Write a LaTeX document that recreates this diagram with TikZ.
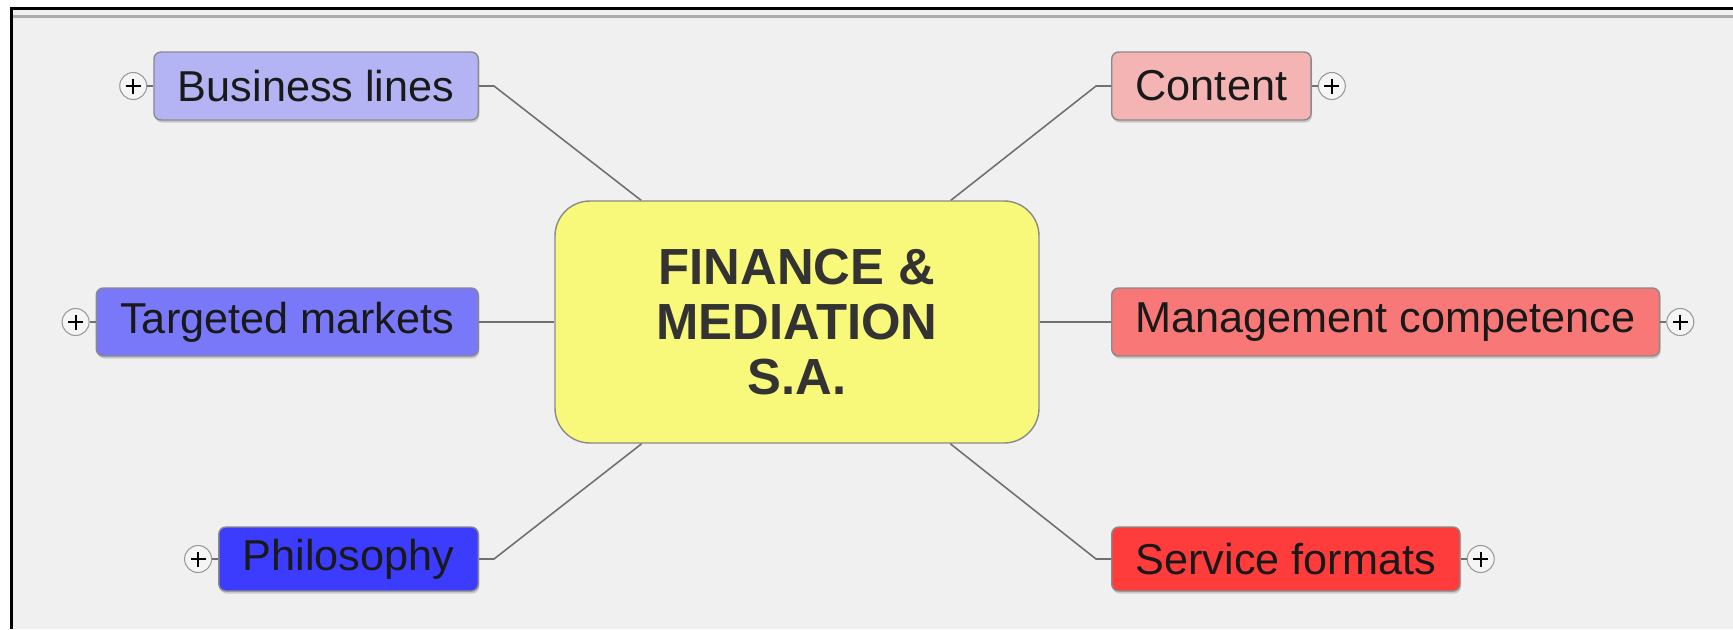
\documentclass[tikz,border=0pt]{standalone}
\usepackage{fontspec}
\setmainfont{Liberation Sans}
\usetikzlibrary{positioning,shadows}
% Farben
\definecolor{hintergrund}{HTML}{F0F0F0}
\definecolor{rahmen}{HTML}{8A8A8A}
\definecolor{linie}{HTML}{707070}
\definecolor{mitte}{HTML}{F8F87A}
\definecolor{blau_hell}{HTML}{B4B4F4}
\definecolor{blau_mittel}{HTML}{7878F8}
\definecolor{blau_dunkel}{HTML}{3C3CFF}
\definecolor{rot_hell}{HTML}{F4B4B4}
\definecolor{rot_mittel}{HTML}{F87878}
\definecolor{rot_dunkel}{HTML}{FF3C3C}
\tikzset{
  zweig/.style={draw=rahmen, line width=0.8pt, rounded corners=0.14cm,
    minimum height=1.36cm, inner xsep=0.48cm, text=black!90,
    font=\fontsize{24.6}{28}\selectfont,
    drop shadow={shadow xshift=0.02cm, shadow yshift=-0.05cm, fill=black!25, opacity=0.8}},
  zentrum/.style={draw=rahmen, line width=0.8pt, rounded corners=0.7cm, fill=mitte,
    minimum width=9.68cm, minimum height=4.84cm, align=center, text=black!80,
    font=\bfseries\fontsize{28.9}{31.4}\selectfont},
  plus/.style={circle, draw=gray!80, fill=white!92!gray, line width=0.6pt,
    minimum size=0.54cm, inner sep=0pt,
    path picture={
      \draw[black, line width=1.1pt]([xshift=-0.15cm]path picture bounding box.center)--([xshift=0.15cm]path picture bounding box.center);
      \draw[black, line width=1.1pt]([yshift=-0.15cm]path picture bounding box.center)--([yshift=0.15cm]path picture bounding box.center);}},
  ast/.style={draw=linie, line width=0.9pt}
}
\begin{document}
\begin{tikzpicture}
% Rahmen und Hintergrund
\useasboundingbox (0,0) rectangle (34.66,-12.58);
\fill[white] (0,0) rectangle (34.66,-12.58);
\fill[hintergrund] (0.22,-0.16) rectangle (34.66,-12.58);
\draw[gray!65, line width=0.06cm] (0.25,-0.32) -- (34.66,-0.32);
\draw[black, line width=0.06cm] (34.66,-0.16) -- (0.22,-0.16) -- (0.22,-12.58);

% Mitte
\node[zentrum]at(15.94,-6.44)(center){FINANCE \&\\MEDIATION\\S.A.};

% Zweige links
\node[zweig,fill=blau_hell,anchor=east]at(9.58,-1.72)(business){Business lines};
\node[zweig,fill=blau_mittel,anchor=east]at(9.58,-6.44)(targeted){Targeted markets};
\node[zweig,fill=blau_dunkel,anchor=east,minimum height=1.28cm]at(9.58,-11.18)(philosophy){Philosophy};
% Zweige rechts
\node[zweig,fill=rot_hell,anchor=west]at(22.22,-1.72)(content){Content};
\node[zweig,fill=rot_mittel,anchor=west]at(22.22,-6.44)(management){Management competence};
\node[zweig,fill=rot_dunkel,anchor=west,minimum height=1.28cm]at(22.22,-11.18)(service){Service formats};

% Plus-Symbole
\node[plus,left=0.12cm of business](business_plus){};
\node[plus,left=0.12cm of targeted](targeted_plus){};
\node[plus,left=0.12cm of philosophy](philosophy_plus){};
\node[plus,right=0.12cm of content](content_plus){};
\node[plus,right=0.12cm of management](management_plus){};
\node[plus,right=0.12cm of service](service_plus){};
\draw[ast](business_plus) -- (business);
\draw[ast](targeted_plus) -- (targeted);
\draw[ast](philosophy_plus) -- (philosophy);
\draw[ast](content_plus) -- (content);
\draw[ast](management_plus) -- (management);
\draw[ast](service_plus) -- (service);

% Verbindungen
\draw[ast](business.east) -- ++(0.3,0) -- (center);
\draw[ast](targeted) -- (center);
\draw[ast](philosophy.east) -- ++(0.3,0) -- (center);
\draw[ast](content.west) -- ++(-0.3,0) -- (center);
\draw[ast](management) -- (center);
\draw[ast](service.west) -- ++(-0.3,0) -- (center);
\end{tikzpicture}
\end{document}
